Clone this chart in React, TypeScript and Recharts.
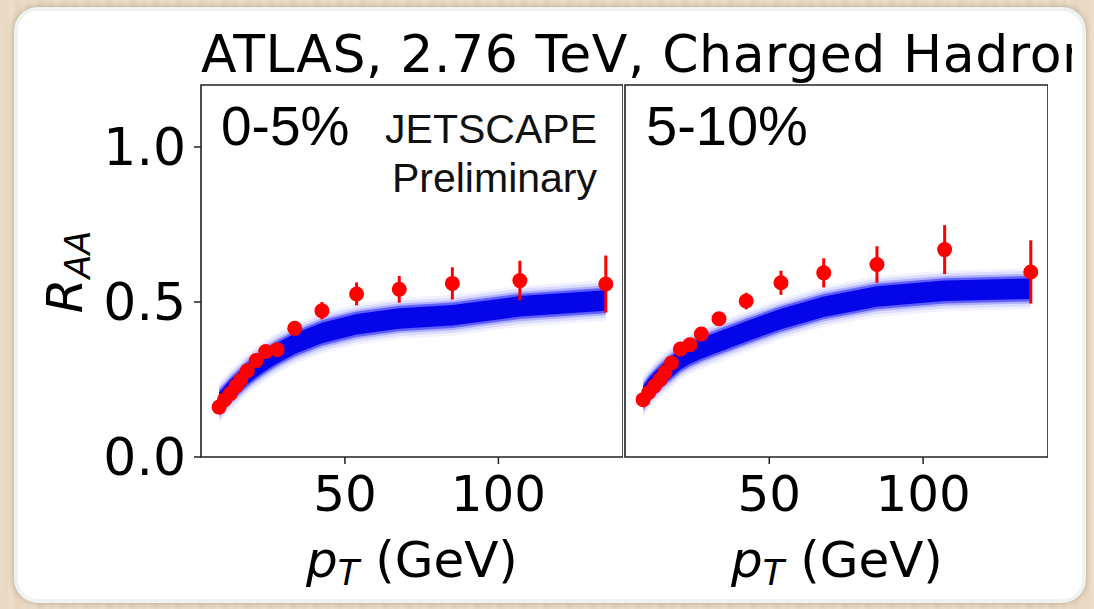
import React from "react";
import {
  ComposedChart,
  Area,
  Scatter,
  ErrorBar,
  XAxis,
  YAxis,
  ReferenceArea,
} from "recharts";

// ─── Data ────────────────────────────────────────────────────────────────────

// bin centres (GeV), shared by both centrality classes
const PT = [9.0, 10.8, 12.6, 14.45, 16.1, 18.2, 21.1, 24.2, 27.9, 33.65, 42.5, 53.8, 67.7, 85.0, 107.0, 135.0];

// ATLAS measurement, 0-5%
const RAA_0_5 = [0.161, 0.185, 0.204, 0.228, 0.249, 0.278, 0.311, 0.34, 0.346, 0.415, 0.472, 0.526, 0.541, 0.56, 0.569, 0.558];
const ERR_0_5 = [0.005, 0.005, 0.005, 0.006, 0.006, 0.007, 0.008, 0.009, 0.01, 0.015, 0.028, 0.037, 0.043, 0.052, 0.064, 0.092];

// ATLAS measurement, 5-10%
const RAA_5_10 = [0.185, 0.208, 0.228, 0.249, 0.273, 0.303, 0.348, 0.362, 0.397, 0.446, 0.503, 0.562, 0.594, 0.621, 0.669, 0.597];
const ERR_5_10 = [0.005, 0.005, 0.005, 0.006, 0.006, 0.007, 0.008, 0.01, 0.012, 0.02, 0.027, 0.039, 0.047, 0.059, 0.079, 0.102];

// JETSCAPE model, centre of the posterior band
const MODEL_0_5 = [0.175, 0.195, 0.215, 0.232, 0.248, 0.268, 0.29, 0.312, 0.335, 0.365, 0.4, 0.428, 0.447, 0.457, 0.486, 0.505];
const MODEL_5_10 = [0.195, 0.22, 0.24, 0.258, 0.273, 0.29, 0.315, 0.333, 0.35, 0.372, 0.405, 0.445, 0.485, 0.518, 0.536, 0.543];

const X_TICKS = [50, 100];
const Y_TICKS = [0, 0.5, 1.0];
const X_DOMAIN: [number, number] = [3.1, 140.6];
const Y_DOMAIN: [number, number] = [0, 1.2];

// ─── Styling ─────────────────────────────────────────────────────────────────

const AXIS_FONT = "DejaVu Sans";
const TEXT_FONT = "Liberation Sans, Arial, sans-serif";
const FRAME = "#222";

// soft edged band: stacked translucent ranges, widest first
const BAND_LAYERS = [
  { half: 0.066, opacity: 0.05 },
  { half: 0.057, opacity: 0.09 },
  { half: 0.048, opacity: 0.2 },
  { half: 0.041, opacity: 0.45 },
  { half: 0.033, opacity: 0.95 },
];

const CHART_TOP = 60;
const MARGIN_TOP = 25;
const PLOT_H = 372;
const XAXIS_H = 70;

function RedDot(props: any) {
  const { cx, cy } = props;
  if (cx == null || cy == null) return null;
  return <circle cx={cx} cy={cy} r={7.5} fill="#ff0000" />;
}

interface PanelProps {
  plotLeft: number;
  plotWidth: number;
  yAxisWidth: number;
  showYLabels: boolean;
  raa: number[];
  err: number[];
  model: number[];
}

function Panel({ plotLeft, plotWidth, yAxisWidth, showYLabels, raa, err, model }: PanelProps) {
  const points = PT.map((pt, i) => ({ pt, raa: raa[i], err: err[i] }));
  const band = PT.map((pt, i) => ({ pt, mid: model[i] }));

  return (
    <div style={{ position: "absolute", left: plotLeft - yAxisWidth, top: CHART_TOP }}>
      <ComposedChart
        width={yAxisWidth + plotWidth}
        height={MARGIN_TOP + PLOT_H + XAXIS_H}
        data={band}
        margin={{ top: MARGIN_TOP, right: 0, bottom: 0, left: 0 }}
      >
        <XAxis
          dataKey="pt"
          type="number"
          domain={X_DOMAIN}
          ticks={X_TICKS}
          allowDataOverflow
          height={XAXIS_H}
          axisLine={false}
          tickSize={7}
          tickMargin={11}
          tickLine={{ stroke: FRAME, strokeWidth: 1.5 }}
          tick={{ fill: "#000", fontSize: 50, fontFamily: AXIS_FONT }}
        />
        <YAxis
          type="number"
          domain={Y_DOMAIN}
          ticks={Y_TICKS}
          allowDataOverflow
          width={yAxisWidth}
          axisLine={false}
          tickSize={showYLabels ? 7 : 6}
          tickMargin={8}
          tickLine={{ stroke: FRAME, strokeWidth: 1.5 }}
          tick={showYLabels ? { fill: "#000", fontSize: 52, fontFamily: AXIS_FONT } : false}
          tickFormatter={(v: number) => v.toFixed(1)}
        />

        {BAND_LAYERS.map((layer, i) => (
          <Area
            key={i}
            type="linear"
            dataKey={(d: any) => [d.mid - layer.half, d.mid + layer.half]}
            stroke="none"
            fill={i === BAND_LAYERS.length - 1 ? "#0000e8" : "#0000ff"}
            fillOpacity={layer.opacity}
            dot={false}
            activeDot={false}
            isAnimationActive={false}
          />
        ))}

        <Scatter data={points} dataKey="raa" shape={<RedDot />} isAnimationActive={false}>
          <ErrorBar dataKey="err" direction="y" width={0} stroke="#ff0000" strokeWidth={3} />
        </Scatter>

        {/* full box around the plot area */}
        <ReferenceArea
          x1={X_DOMAIN[0]}
          x2={X_DOMAIN[1]}
          y1={Y_DOMAIN[0]}
          y2={Y_DOMAIN[1]}
          fill="none"
          fillOpacity={0}
          stroke={FRAME}
          strokeWidth={1.6}
          ifOverflow="visible"
        />
      </ComposedChart>
    </div>
  );
}

function PtLabel({ cx }: { cx: number }) {
  return (
    <text
      x={cx}
      y={577}
      textAnchor="middle"
      fontFamily={AXIS_FONT}
      fontSize={50}
      fill="#000"
    >
      <tspan fontStyle="italic">p</tspan>
      <tspan fontStyle="italic" fontSize={35} dy={8}>T</tspan>
      <tspan dy={-8}> (GeV)</tspan>
    </text>
  );
}

export default function App() {
  return (
    <div
      style={{
        position: "absolute",
        left: 0,
        top: 0,
        width: 1094,
        height: 609,
        overflow: "hidden",
        background:
          "repeating-linear-gradient(90deg, #ecdcc7 0px, #e9d8c2 6px, #eddfcb 11px, #e7d5be 17px, #ebdac5 23px)",
      }}
    >
      {/* white card */}
      <div
        style={{
          position: "absolute",
          left: 14,
          top: 7,
          width: 1072,
          height: 596,
          borderRadius: 24,
          background: "#fff",
          border: "4px solid #eef2f1",
          boxSizing: "border-box",
          boxShadow: "0 0 6px rgba(90,70,50,0.35)",
        }}
      />

      <Panel plotLeft={201} plotWidth={422} yAxisWidth={101} showYLabels raa={RAA_0_5} err={ERR_0_5} model={MODEL_0_5} />
      <Panel plotLeft={625} plotWidth={423} yAxisWidth={20} showYLabels={false} raa={RAA_5_10} err={ERR_5_10} model={MODEL_5_10} />

      <svg
        width={1094}
        height={609}
        style={{ position: "absolute", left: 0, top: 0, pointerEvents: "none" }}
      >
        <defs>
          <clipPath id="titleClip">
            <rect x={0} y={0} width={1072} height={120} />
          </clipPath>
        </defs>

        <text
          x={201}
          y={72}
          fontFamily={AXIS_FONT}
          fontSize={52}
          letterSpacing={0.6}
          fill="#000"
          clipPath="url(#titleClip)"
        >
          ATLAS, 2.76 TeV, Charged Hadrons
        </text>

        <text
          transform="translate(82,272) rotate(-90)"
          textAnchor="middle"
          fontFamily={AXIS_FONT}
          fontSize={50}
          fontStyle="italic"
          fill="#000"
        >
          R<tspan fontSize={35} dy={8}>AA</tspan>
        </text>

        <PtLabel cx={412} />
        <PtLabel cx={837} />

        <text x={221} y={145} fontFamily={TEXT_FONT} fontSize={55} fill="#000">0-5%</text>
        <text x={597} y={143} textAnchor="end" fontFamily={TEXT_FONT} fontSize={41} fill="#111">JETSCAPE</text>
        <text x={597} y={192} textAnchor="end" fontFamily={TEXT_FONT} fontSize={41} fill="#111">Preliminary</text>
        <text x={646} y={145} fontFamily={TEXT_FONT} fontSize={56} fill="#000">5-10%</text>
      </svg>
    </div>
  );
}
